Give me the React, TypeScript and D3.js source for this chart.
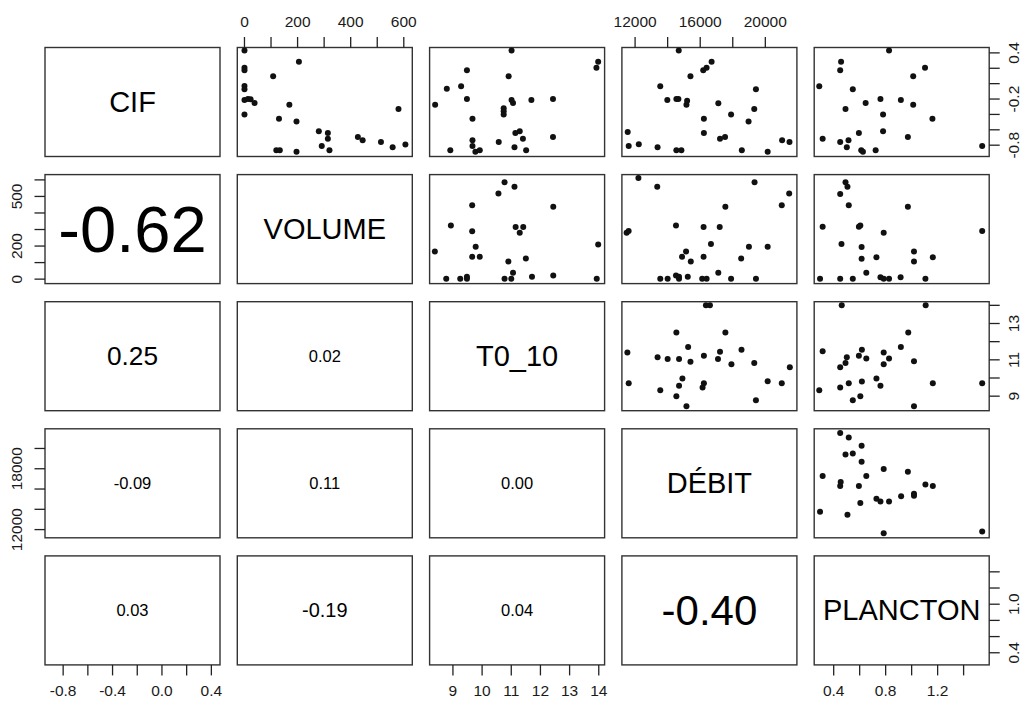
import React from 'react';
import * as d3 from 'd3';

// variables, in matrix order
const variables = ['CIF', 'VOLUME', 'T0_10', 'DÉBIT', 'PLANCTON'];
// plotting range of each variable (R's usr box)
const domains: [number, number][] = [
  [-0.947, 0.47],
  [-27, 632],
  [8.2, 14.2],
  [11190, 21940],
  [0.25, 1.597],
];

// tick positions per variable
const cifTicks = [-0.8, -0.6, -0.4, -0.2, 0, 0.2, 0.4];
const volumeTicks = [0, 100, 200, 300, 400, 500, 600];
const t010Ticks = [9, 10, 11, 12, 13, 14];
const debitTicks = [12000, 14000, 16000, 18000, 20000];
const planctonTicks = [0.4, 0.6, 0.8, 1.0, 1.2, 1.4];

// labelled ticks (R drops the ones that would overlap)
const cifRightLabels = [-0.8, -0.2, 0.4];
const cifBottomLabels = [-0.8, -0.4, 0.0, 0.4];
const volumeTopLabels = [0, 200, 400, 600];
const volumeLeftLabels = [0, 200, 500];
const t010RightLabels = [9, 11, 13];
const t010BottomLabels = [9, 10, 11, 12, 13, 14];
const debitTopLabels = [12000, 16000, 20000];
const debitLeftLabels = [12000, 18000];
const planctonRightLabels = [0.4, 1.0];
const planctonBottomLabels = [0.4, 0.8, 1.2];

// correlations, lower triangle read row by row
const correlations = ['-0.62', '0.25', '0.02', '-0.09', '0.11', '0.00', '0.03', '-0.19', '0.04', '-0.40'];

// scatter panels: [x (column variable), y (row variable)]
const cifVsVolume: [number, number][] = [
  [0, 0.43], [0, 0.207], [0, 0.173], [0, -0.029], [0, -0.072], [0, -0.213], [13, -0.2], [23, -0.204],
  [38, -0.252], [0, -0.402], [205, 0.284], [108, 0.096], [169, -0.273], [130, -0.457], [196, -0.492],
  [280, -0.62], [314, -0.642], [314, -0.715], [291, -0.809], [320, -0.865], [427, -0.693], [445, -0.736],
  [514, -0.757], [580, -0.329], [558, -0.826], [606, -0.792], [120, -0.865], [133, -0.865], [196, -0.886],
];
const cifVsT010: [number, number][] = [
  [11.01, 0.43], [13.98, 0.284], [13.92, 0.207], [9.48, 0.173], [10.91, 0.096], [8.79, -0.067],
  [9.28, -0.033], [9.48, -0.2], [8.39, -0.273], [11.01, -0.213], [11.06, -0.252], [11.69, -0.213],
  [12.43, -0.2], [10.74, -0.32], [10.74, -0.359], [10.74, -0.402], [9.67, -0.457], [11.14, -0.642],
  [11.29, -0.62], [11.4, -0.715], [12.43, -0.693], [9.67, -0.736], [9.67, -0.809], [10.57, -0.757],
  [11.11, -0.826], [11.51, -0.865], [8.91, -0.865], [9.77, -0.886], [9.92, -0.865],
];
const cifVsDebit: [number, number][] = [
  [14681, 0.43], [16701, 0.284], [16392, 0.207], [16186, 0.173], [15402, 0.096], [13546, -0.033],
  [19423, -0.072], [13980, -0.213], [14536, -0.2], [14660, -0.2], [15196, -0.222], [15155, -0.273],
  [17114, -0.256], [19320, -0.329], [16227, -0.457], [17897, -0.402], [18970, -0.492], [16227, -0.642],
  [17217, -0.715], [17526, -0.693], [11546, -0.629], [11608, -0.809], [12227, -0.787], [13381, -0.826],
  [14536, -0.865], [14845, -0.865], [18557, -0.865], [20145, -0.886], [21031, -0.736], [21485, -0.757],
];
const cifVsPlancton: [number, number][] = [
  [0.826, 0.43], [0.457, 0.284], [0.45, 0.173], [1.103, 0.207], [1.012, 0.096], [0.289, -0.033],
  [0.547, -0.072], [0.491, -0.329], [0.646, -0.252], [0.76, -0.2], [0.917, -0.213], [1.012, -0.273],
  [0.78, -0.402], [1.16, -0.457], [0.78, -0.62], [0.594, -0.642], [0.971, -0.693], [0.315, -0.715],
  [0.45, -0.757], [0.514, -0.736], [0.501, -0.826], [0.612, -0.865], [0.625, -0.886], [0.723, -0.865],
  [1.543, -0.809],
];
const volumeVsT010: [number, number][] = [
  [10.77, 585], [11.11, 559], [10.56, 517], [9.66, 446], [12.44, 438], [8.93, 325], [9.66, 289],
  [11.15, 315], [11.41, 315], [11.29, 281], [9.78, 196], [8.38, 167], [13.98, 210], [9.66, 135],
  [9.92, 135], [11.5, 125], [10.9, 107], [11.06, 38], [8.77, 2], [9.25, 2], [9.48, 14], [9.48, 2],
  [10.77, 2], [11.0, 2], [11.71, 14], [12.44, 22], [13.93, 2],
];
const volumeVsDebit: [number, number][] = [
  [12204, 612], [13361, 559], [19339, 585], [21467, 517], [21010, 446], [17545, 438], [11480, 281],
  [11604, 291], [14512, 325], [16208, 315], [17198, 315], [16660, 212], [15131, 167], [14884, 135],
  [15422, 107], [16208, 135], [18993, 196], [20144, 196], [18516, 125], [17111, 38], [13547, 2],
  [13999, 2], [14512, 22], [14698, 14], [14698, 2], [15236, 14], [16121, 2], [16394, 2], [17897, 2],
  [19425, 2],
];
const volumeVsPlancton: [number, number][] = [
  [0.491, 585], [0.506, 559], [0.45, 515], [0.516, 446], [0.971, 438], [0.315, 317], [0.594, 317],
  [0.605, 325], [0.785, 281], [1.543, 291], [0.46, 212], [0.615, 194], [1.018, 167], [0.615, 123],
  [0.729, 133], [1.018, 107], [1.163, 133], [0.651, 38], [0.295, 2], [0.45, 2], [0.547, 2], [0.76, 12],
  [0.785, 2], [0.826, 2], [0.915, 12], [1.106, 2],
];
const t010VsDebit: [number, number][] = [
  [16351, 14.0], [16598, 14.0], [14536, 12.5], [17547, 12.5], [15258, 11.71], [11526, 11.4],
  [17217, 11.45], [18537, 11.55], [13382, 11.14], [14000, 11.05], [14701, 11.05], [15402, 10.9],
  [16227, 11.22], [17093, 11.05], [17918, 10.76], [19320, 10.83], [21506, 10.59], [11608, 9.71],
  [14907, 9.97], [14701, 9.57], [16227, 9.71], [16145, 9.48], [13547, 9.33], [20145, 9.82],
  [21011, 9.71], [14536, 9.0], [19423, 8.78], [15155, 8.45],
];
const t010VsPlancton: [number, number][] = [
  [0.462, 14.0], [1.108, 14.0], [0.974, 12.5], [0.917, 11.71], [0.315, 11.47], [0.617, 11.55],
  [0.785, 11.4], [0.501, 11.14], [0.594, 11.23], [0.651, 11.07], [0.826, 11.07], [0.491, 10.83],
  [1.018, 10.92], [0.785, 10.76], [0.45, 10.59], [0.729, 9.97], [0.516, 9.71], [0.617, 9.81],
  [0.45, 9.48], [0.76, 9.57], [1.163, 9.71], [1.543, 9.71], [0.289, 9.33], [0.605, 9.0], [0.547, 8.78],
  [1.018, 8.45],
];
const debitVsPlancton: [number, number][] = [
  [0.45, 21530], [0.516, 21079], [0.615, 20257], [0.491, 19414], [0.547, 19512], [0.615, 18690],
  [0.785, 17975], [0.971, 17710], [0.315, 17289], [0.651, 17289], [0.454, 16701], [0.45, 16310],
  [0.594, 16310], [1.106, 16441], [1.163, 16310], [0.729, 15036], [0.76, 14772], [0.826, 14772],
  [0.919, 15300], [1.018, 15526], [1.018, 15330], [0.605, 14615], [0.295, 13763], [0.506, 13469],
  [0.785, 11638], [1.543, 11804],
];

const scatterPanels = [
  { row: 0, col: 1, points: cifVsVolume },
  { row: 0, col: 2, points: cifVsT010 },
  { row: 0, col: 3, points: cifVsDebit },
  { row: 0, col: 4, points: cifVsPlancton },
  { row: 1, col: 2, points: volumeVsT010 },
  { row: 1, col: 3, points: volumeVsDebit },
  { row: 1, col: 4, points: volumeVsPlancton },
  { row: 2, col: 3, points: t010VsDebit },
  { row: 2, col: 4, points: t010VsPlancton },
  { row: 3, col: 4, points: debitVsPlancton },
];

const allTicks = [cifTicks, volumeTicks, t010Ticks, debitTicks, planctonTicks];
const outerLabels = [
  { side: 'right', v: 0, labels: cifRightLabels },
  { side: 'bottom', v: 0, labels: cifBottomLabels },
  { side: 'top', v: 1, labels: volumeTopLabels },
  { side: 'left', v: 1, labels: volumeLeftLabels },
  { side: 'right', v: 2, labels: t010RightLabels },
  { side: 'bottom', v: 2, labels: t010BottomLabels },
  { side: 'top', v: 3, labels: debitTopLabels },
  { side: 'left', v: 3, labels: debitLeftLabels },
  { side: 'right', v: 4, labels: planctonRightLabels },
  { side: 'bottom', v: 4, labels: planctonBottomLabels },
];

const W = 1027;
const H = 703;
const left0 = 45;
const top0 = 47.5;
const pw = 175;
const ph = 109;
const stepX = 192.3;
const stepY = 127.1;
const n = variables.length;
const FONT = '"Liberation Sans", Arial, Helvetica, sans-serif';

const colX = (c: number) => left0 + c * stepX;
const rowY = (r: number) => top0 + r * stepY;

const xScales = domains.map(d => d3.scaleLinear().domain(d).range([0, pw]));
const yScales = domains.map(d => d3.scaleLinear().domain(d).range([ph, 0]));

const fmt = (v: number, vi: number) =>
  vi === 0 || vi === 4 ? v.toFixed(1) : String(v);

const App: React.FC = () => {
  const panels = [];
  for (let r = 0; r < n; r++) {
    for (let c = 0; c < n; c++) {
      panels.push({ r, c });
    }
  }

  // lower-triangle correlation lookup
  let k = 0;
  const corMap: Record<string, string> = {};
  for (let r = 1; r < n; r++) {
    for (let c = 0; c < r; c++) corMap[`${r}-${c}`] = correlations[k++];
  }

  const axes = outerLabels.map(({ side, v, labels }, ai) => {
    const ticks = allTicks[v];
    const tl = 10.5;
    if (side === 'top' || side === 'bottom') {
      const x0 = colX(v);
      const yb = side === 'top' ? rowY(0) : rowY(n - 1) + ph;
      const dir = side === 'top' ? -1 : 1;
      const s = xScales[v];
      return (
        <g key={ai}>
          {ticks.map(t => (
            <line key={t} x1={x0 + s(t)} x2={x0 + s(t)} y1={yb} y2={yb + dir * tl} stroke="#222" strokeWidth={1.3} />
          ))}
          {labels.map(t => (
            <text key={t} x={x0 + s(t)} y={yb + dir * 26} textAnchor="middle" dominantBaseline="central"
              fontSize={15.5} fontFamily={FONT} fill="#1a1a1a">{fmt(t, v)}</text>
          ))}
        </g>
      );
    }
    const y0 = rowY(v);
    const xb = side === 'left' ? colX(0) : colX(n - 1) + pw;
    const dir = side === 'left' ? -1 : 1;
    const s = yScales[v];
    const off = side === 'left' ? 28 : 24;
    return (
      <g key={ai}>
        {ticks.map(t => (
          <line key={t} x1={xb} x2={xb + dir * tl} y1={y0 + s(t)} y2={y0 + s(t)} stroke="#222" strokeWidth={1.3} />
        ))}
        {labels.map(t => {
          const lx = xb + dir * off;
          const ly = y0 + s(t);
          return (
            <text key={t} x={lx} y={ly} transform={`rotate(-90 ${lx} ${ly})`} textAnchor="middle"
              dominantBaseline="central" fontSize={15.5} fontFamily={FONT} fill="#1a1a1a">{fmt(t, v)}</text>
          );
        })}
      </g>
    );
  });

  return (
    <svg width={W} height={H} style={{ position: 'absolute', left: 0, top: 0, background: '#fff' }}>
      <rect width={W} height={H} fill="#fff" />
      {panels.map(({ r, c }) => {
        const x = colX(c);
        const y = rowY(r);
        let content: React.ReactNode = null;
        if (r === c) {
          content = (
            <text x={x + pw / 2} y={y + ph / 2} textAnchor="middle" dominantBaseline="central"
              fontSize={29} fontFamily={FONT} fill="#000">{variables[r]}</text>
          );
        } else if (r > c) {
          const label = corMap[`${r}-${c}`];
          const size = Math.max(16.5, 105 * Math.abs(parseFloat(label)));
          content = (
            <text x={x + pw / 2} y={y + ph / 2} textAnchor="middle" dominantBaseline="central"
              fontSize={size} fontFamily={FONT} fill="#000">{label}</text>
          );
        }
        return (
          <g key={`${r}-${c}`}>
            {content}
            <rect x={x} y={y} width={pw} height={ph} fill="none" stroke="#333" strokeWidth={1.4} />
          </g>
        );
      })}
      {scatterPanels.map(({ row, col, points }) => (
        <g key={`s-${row}-${col}`} transform={`translate(${colX(col)},${rowY(row)})`}>
          {points.map((p, i) => (
            <circle key={i} cx={xScales[col](p[0])} cy={yScales[row](p[1])} r={3} fill="#111" />
          ))}
        </g>
      ))}
      {axes}
    </svg>
  );
};

export default App;
